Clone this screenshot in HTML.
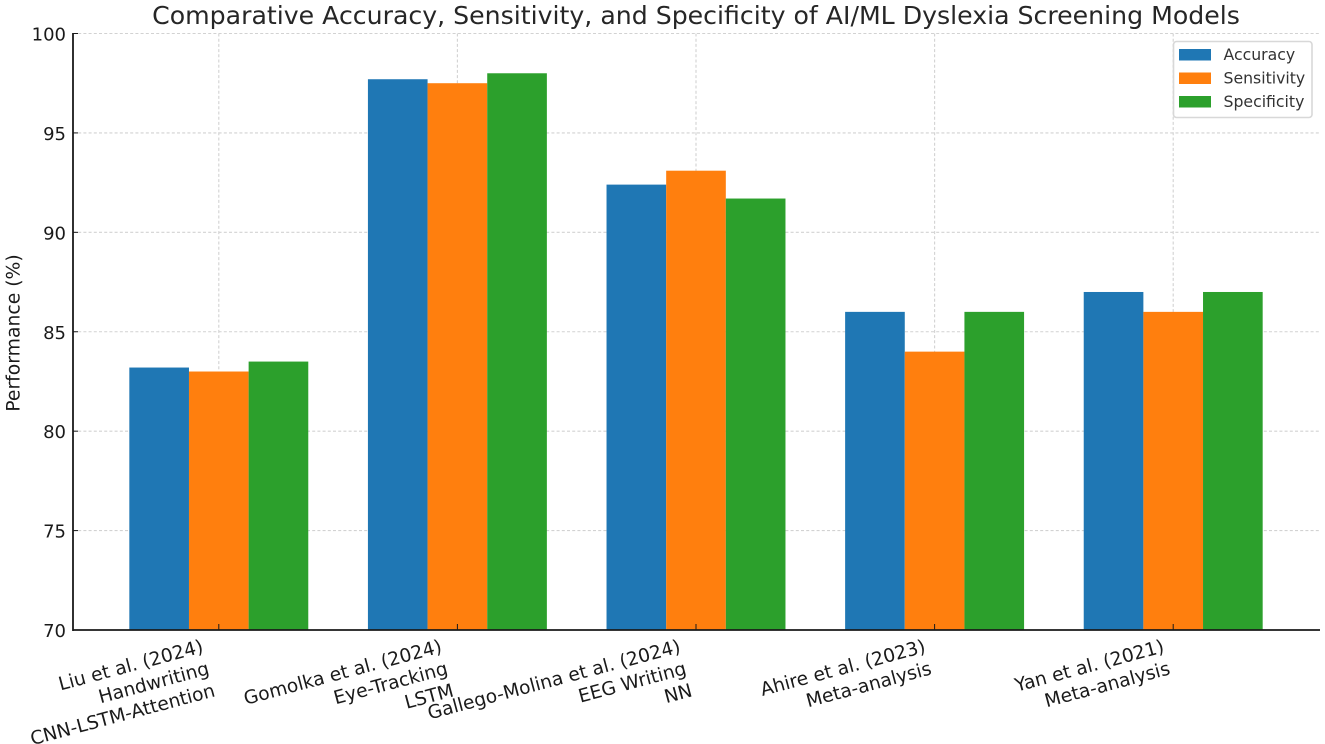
<!DOCTYPE html>
<html>
<head>
<meta charset="utf-8">
<style>
html,body{margin:0;padding:0;background:#fff}
svg{display:block;filter:blur(0.35px)}
text{font-family:"DejaVu Sans",sans-serif;fill:#1a1a1a}
</style>
</head>
<body>
<svg id="chart" width="1325" height="744" viewBox="0 0 1325 744" xmlns="http://www.w3.org/2000/svg">
<rect width="1325" height="744" fill="#fff"/>
<text x="696" y="24" text-anchor="middle" font-size="25.2" style="fill:#262626">Comparative Accuracy, Sensitivity, and Specificity of AI/ML Dyslexia Screening Models</text>
<text transform="translate(19.5,333) rotate(-90)" text-anchor="middle" font-size="18.8">Performance (%)</text>
<g id="grid"></g>
<g id="bars"></g>
<g id="axes"></g>
<g id="legend"></g>
</svg>
<script>
const categories = [
  ["Liu et al. (2024)", "Handwriting", "CNN-LSTM-Attention"],
  ["Gomolka et al. (2024)", "Eye-Tracking", "LSTM"],
  ["Gallego-Molina et al. (2024)", "EEG Writing", "NN"],
  ["Ahire et al. (2023)", "Meta-analysis"],
  ["Yan et al. (2021)", "Meta-analysis"]
];
const accuracy = [83.2, 97.7, 92.4, 86, 87];
const sensitivity = [83, 97.5, 93.1, 84, 86];
const specificity = [83.5, 98, 91.7, 86, 87];
const yTicks = [70, 75, 80, 85, 90, 95, 100];
const seriesNames = ["Accuracy", "Sensitivity", "Specificity"];
const seriesColors = ["#1f77b4", "#ff7f0e", "#2ca02c"];
const seriesValues = [accuracy, sensitivity, specificity];

const NS = "http://www.w3.org/2000/svg";
const plot = {left: 73, right: 1320, top: 33.5, bottom: 630};
const yDomain = [70, 100];
const firstCenter = 218.8, step = 238.6, groupWidth = 0.75;

function yScale(v) {
  return plot.bottom - (v - yDomain[0]) / (yDomain[1] - yDomain[0]) * (plot.bottom - plot.top);
}
function xScale(i) {
  return firstCenter + i * step;
}
function make(tag, attrs, parent) {
  const el = document.createElementNS(NS, tag);
  for (const k in attrs) el.setAttribute(k, attrs[k]);
  parent.appendChild(el);
  return el;
}

const gridG = document.getElementById("grid");
const barsG = document.getElementById("bars");
const axesG = document.getElementById("axes");
const legendG = document.getElementById("legend");
const gridStyle = {stroke: "#d2d2d2", "stroke-width": 1.1, "stroke-dasharray": "3 2.2", fill: "none"};

yTicks.forEach(function (t) {
  const l = make("line", Object.assign({x1: plot.left, x2: plot.right, y1: yScale(t), y2: yScale(t)}, gridStyle), gridG);
  
  
});
categories.forEach(function (c, i) {
  const l = make("line", Object.assign({x1: xScale(i), x2: xScale(i), y1: plot.top, y2: plot.bottom}, gridStyle), gridG);
  
  
});

const barW = step * groupWidth / seriesNames.length;
seriesValues.forEach(function (vals, s) {
  vals.forEach(function (v, i) {
    const x = xScale(i) + (s - 1.5) * barW;
    const r = make("rect", {x: x, y: yScale(v), width: barW, height: plot.bottom - yScale(v), fill: seriesColors[s]}, barsG);
    
    
  });
});

const spineStyle = {stroke: "#1a1a1a", "stroke-width": 1.8};
const ySpine = make("line", Object.assign({x1: plot.left, x2: plot.left, y1: plot.top - 0.5, y2: plot.bottom + 1}, spineStyle), axesG);


const xSpine = make("line", Object.assign({x1: plot.left, x2: plot.right, y1: plot.bottom, y2: plot.bottom}, spineStyle), axesG);



yTicks.forEach(function (t) {
  const m = make("line", {x1: plot.left, x2: plot.left + 5, y1: yScale(t), y2: yScale(t), stroke: "#1a1a1a", "stroke-width": 1}, axesG);
  
  
  const lab = make("text", {x: plot.left - 7, y: yScale(t) + 7, "text-anchor": "end", "font-size": 18}, axesG);
  lab.textContent = String(t);
  
  
});

categories.forEach(function (lines, i) {
  const m = make("line", {x1: xScale(i), x2: xScale(i), y1: plot.bottom - 6, y2: plot.bottom, stroke: "#1a1a1a", "stroke-width": 1}, axesG);
  
  
  const anchorX = xScale(i) + 5 - lines.length * 6.5;
  const g = make("g", {transform: "translate(" + anchorX + ",652) rotate(-15)"}, axesG);
  
  
  lines.forEach(function (line, k) {
    const t = make("text", {x: 0, y: k * 22.8, "text-anchor": "end", "font-size": 18.7}, g);
    t.textContent = line;
    
    
  });
});

const box = make("rect", {x: 1173.5, y: 41.5, width: 138.5, height: 76, rx: 3, fill: "#fff", "fill-opacity": 0.85, stroke: "#d8d8d8", "stroke-width": 1.6}, legendG);


seriesNames.forEach(function (name, s) {
  const y = 49 + s * 23.5;
  const sw = make("rect", {x: 1179, y: y, width: 32, height: 11.5, fill: seriesColors[s]}, legendG);
  
  
  const t = make("text", {x: 1223.5, y: y + 11, "font-size": 15.7, style: "fill:#333"}, legendG);
  t.textContent = name;
  
  
});
</script>
</body>
</html>
